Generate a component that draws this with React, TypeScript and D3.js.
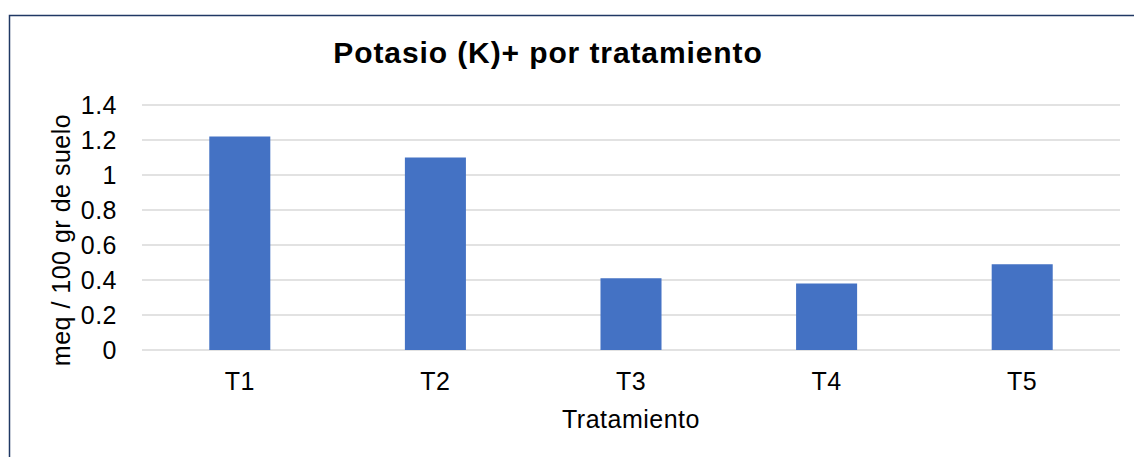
import React from 'react'
import * as d3 from 'd3'

const categories = ['T1', 'T2', 'T3', 'T4', 'T5']
const values = [1.22, 1.1, 0.41, 0.38, 0.49]
const yTicks = [0, 0.2, 0.4, 0.6, 0.8, 1, 1.2, 1.4]

const width = 1134
const height = 457
const barColor = '#4472c4'
const gridColor = '#d9d9d9'
const font = '"Liberation Sans", Arial, sans-serif'

const plot = { left: 142, right: 1120, top: 105, bottom: 350 }

export default function App() {
  const x = d3.scaleBand<string>()
    .domain(categories)
    .range([plot.left, plot.right])
    .padding(0)
  const y = d3.scaleLinear().domain([0, 1.4]).range([plot.bottom, plot.top])
  const barWidth = x.bandwidth() * 0.312
  const axisText = { fontFamily: font, fontSize: 25, letterSpacing: 0.5, fill: '#000' }

  return (
    <div style={{ position: 'fixed', left: 0, top: 0 }}>
      <svg width={width} height={height} style={{ display: 'block', background: '#fff' }}>
        <rect x={9.5} y={15.5} width={width} height={height} fill='none' stroke='#203864' strokeWidth={1.5} />
        <text x={548} y={63} textAnchor='middle' fontFamily={font} fontWeight='bold' fontSize={30}
          letterSpacing={0.9} fill='#000'>
          Potasio (K)+ por tratamiento
        </text>
        {yTicks.map(t => (
          <g key={t}>
            <line x1={plot.left} x2={plot.right} y1={y(t)} y2={y(t)} stroke={gridColor} strokeWidth={1.5} />
            <text x={117} y={y(t)} dy='0.36em' textAnchor='end' {...axisText}>
              {d3.format('~g')(t)}
            </text>
          </g>
        ))}
        {categories.map((c, i) => {
          const cx = (x(c) as number) + x.bandwidth() / 2
          return (
            <g key={c}>
              <rect x={cx - barWidth / 2} y={y(values[i])} width={barWidth} height={y(0) - y(values[i])} fill={barColor} />
              <text x={cx} y={390} textAnchor='middle' {...axisText}>{c}</text>
            </g>
          )
        })}
        <text x={631} y={428} textAnchor='middle' {...axisText}>Tratamiento</text>
        <text transform='translate(70, 240) rotate(-90)' textAnchor='middle' {...axisText}>
          meq / 100 gr de suelo
        </text>
      </svg>
    </div>
  )
}
